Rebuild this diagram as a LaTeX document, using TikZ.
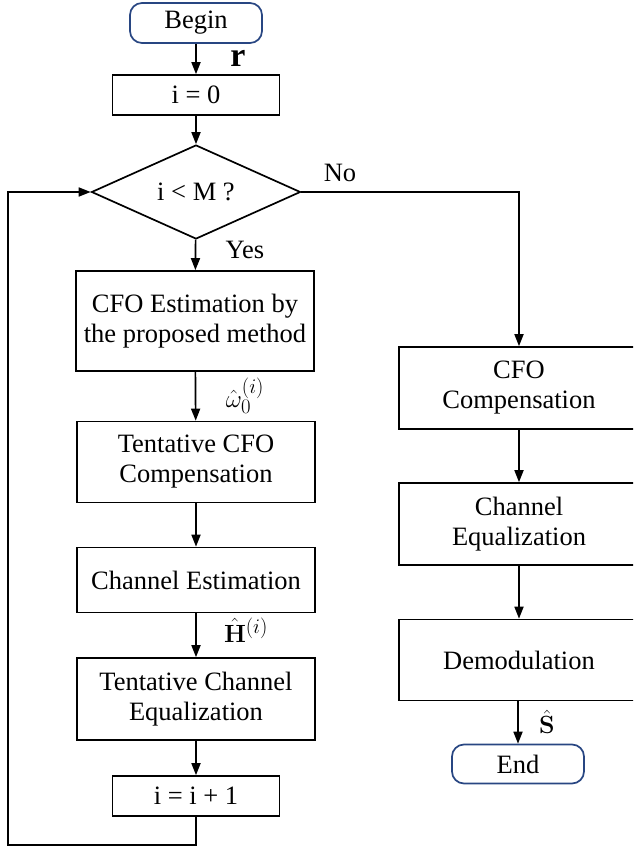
\documentclass[tikz,border=0pt]{standalone}
\usepackage[no-math]{fontspec}
\setmainfont{Liberation Serif}
\usetikzlibrary{arrows.meta,shapes.geometric}
\definecolor{termblue}{RGB}{40,70,130}
\newcommand{\bigfs}{\fontsize{26.5}{30}\selectfont}
\newcommand{\mathfs}{\fontsize{24.88}{27}\selectfont}
\newcommand{\rfs}{\fontsize{34}{36}\selectfont}
\begin{document}
\begin{tikzpicture}[x=1pt,y=-1pt,
  box/.style={draw, line width=1.7pt, rectangle, align=center, inner sep=0pt, font=\bigfs},
  term/.style={box, rounded corners=12pt, draw=termblue},
  arr/.style={-{Triangle[length=12pt,width=9pt]}, line width=1.7pt},
  lbl/.style={inner sep=0pt, font=\bigfs},
  mlbl/.style={inner sep=0pt, font=\mathfs}]
\useasboundingbox (0,0) rectangle (633,848);
\clip (0,0) rectangle (633,848);
% left column
\node[term, minimum width=132pt, minimum height=40pt] (begin) at (196,23) {Begin};
\node[box, minimum width=167pt, minimum height=40pt] (i0) at (196,95) {i = 0};
\node[box, diamond, aspect=2.22, minimum width=209pt, minimum height=94pt] (dec) at (196,192) {i < M ?};
\node[box, minimum width=238pt, minimum height=100pt] (est) at (195,321) {CFO Estimation by\\the proposed method};
\node[box, minimum width=238pt, minimum height=81pt] (tcfo) at (196,462) {Tentative CFO\\Compensation};
\node[box, minimum width=238pt, minimum height=65pt] (chest) at (196,580) {Channel Estimation};
\node[box, minimum width=238pt, minimum height=82pt] (tcheq) at (196,699) {Tentative Channel\\Equalization};
\node[box, minimum width=167pt, minimum height=40pt] (inc) at (196,796) {i = i + 1};
% right column
\node[box, minimum width=240pt, minimum height=82pt] (cfoc) at (519,388) {CFO\\Compensation};
\node[box, minimum width=240pt, minimum height=82pt] (cheq) at (519,524) {Channel\\Equalization};
\node[box, minimum width=240pt, minimum height=81pt] (demod) at (519,660) {Demodulation};
\node[term, minimum width=132pt, minimum height=39pt] (end) at (518,764) {End};
% loop coordinates
\coordinate (lb) at (8,845);
\coordinate (lt) at (8,192);
\coordinate (rt) at (519,192);
% connectors
\draw[arr] (begin) -- (i0);
\draw[arr] (i0) -- (dec);
\draw[arr] (dec) -- (est);
\draw[arr] (est) -- (tcfo);
\draw[arr] (tcfo) -- (chest);
\draw[arr] (chest) -- (tcheq);
\draw[arr] (tcheq) -- (inc);
\draw[arr] (inc.south) |- (lb) -- (lt) -- (dec.west);
\draw[arr] (dec.east) -- (rt) -- (cfoc.north);
\draw[arr] (cfoc) -- (cheq);
\draw[arr] (cheq) -- (demod);
\draw[arr] (demod.south -| end) -- (end);
% labels
\node[inner sep=0pt, font=\rfs] (rlab) at (238,58) {\textbf{r}};
\node[lbl] (nolab) at (340,173) {No};
\node[lbl] (yeslab) at (245,250) {Yes};
\node[mlbl] (wlab) at (245,396) {$\hat{\omega}_0^{(i)}$};
\node[mlbl] (hlab) at (246,630) {$\hat{\mathbf{H}}^{(i)}$};
\node[mlbl] (slab) at (547,722) {$\hat{\mathbf{S}}$};
\end{tikzpicture}
\end{document}
